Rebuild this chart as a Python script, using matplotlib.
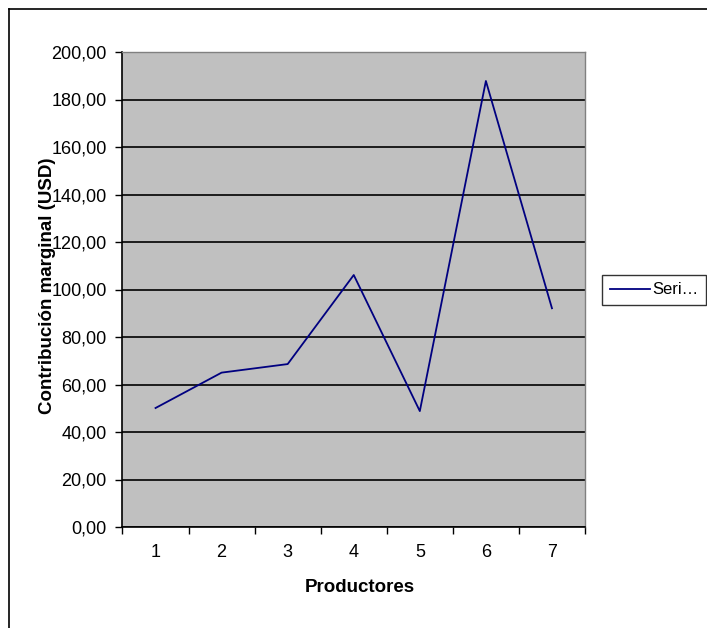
import matplotlib
matplotlib.use("Agg")
import matplotlib.pyplot as plt
from matplotlib.lines import Line2D
from matplotlib.ticker import FuncFormatter, MultipleLocator

plt.rcParams['font.family'] = ['Liberation Sans', 'DejaVu Sans']

productores = [1, 2, 3, 4, 5, 6, 7]
contribucion = [50.1, 65.0, 68.6, 106.1, 48.8, 187.8, 92.1]
series_label = "Seri…"

W, H = 707, 628
fig = plt.figure(figsize=(W / 100, H / 100), dpi=100)
fig.patch.set_facecolor("white")

ax = fig.add_axes([122.5 / W, 1 - 527 / H, (585 - 122.5) / W, (527 - 52) / H])
ax.set_facecolor("#C0C0C0")
ax.plot(productores, contribucion, color="#000080", lw=1.3, label=series_label)

ax.set_xlim(0.5, 7.5)
ax.set_ylim(0, 200)
ax.yaxis.set_major_locator(MultipleLocator(20))
ax.yaxis.set_major_formatter(FuncFormatter(lambda v, p: f"{v:.2f}".replace(".", ",")))
ax.set_xticks(productores)
ax.set_xticks([i + 0.5 for i in range(0, 8)], minor=True)
ax.tick_params(axis="x", which="major", length=0, pad=12, labelsize=13)
ax.tick_params(axis="x", which="minor", length=5, width=1, direction="out", color="black")
ax.tick_params(axis="y", which="major", length=5, width=1, direction="out", labelsize=13, pad=6.5)
ax.grid(axis="y", color="black", lw=1.2)
ax.set_axisbelow(True)
for s in ["top", "right"]:
    ax.spines[s].set_color("#808080")
    ax.spines[s].set_linewidth(1)
for s in ["left", "bottom"]:
    ax.spines[s].set_color("black")
    ax.spines[s].set_linewidth(1.2)

ax.set_xlabel("Productores", fontsize=13.5, fontweight="bold")
ax.xaxis.set_label_coords(0.5135, -0.1284)
ax.xaxis.label.set_va("center")
ax.set_ylabel("Contribución marginal (USD)", fontsize=13.5, fontweight="bold")
ax.yaxis.set_label_coords(-0.162, 0.507)
ax.yaxis.label.set_va("center")

leg = ax.legend(loc="center left", bbox_to_anchor=(602 / W, 1 - 290 / H),
                bbox_transform=fig.transFigure, fontsize=12, fancybox=False,
                frameon=True, edgecolor="black", handlelength=2.4, borderpad=0.45,
                borderaxespad=0, handletextpad=0.15)
leg.get_frame().set_linewidth(1)

# outer chart-area border (clipped at right and bottom)
fig.add_artist(Line2D([8.5 / W, 8.5 / W], [1 - 9 / H, 0], color="black", lw=1.2,
                      transform=fig.transFigure))
fig.add_artist(Line2D([8.5 / W, 1], [1 - 9 / H, 1 - 9 / H], color="black", lw=1.2,
                      transform=fig.transFigure))

fig.savefig("out.png", dpi=100)
